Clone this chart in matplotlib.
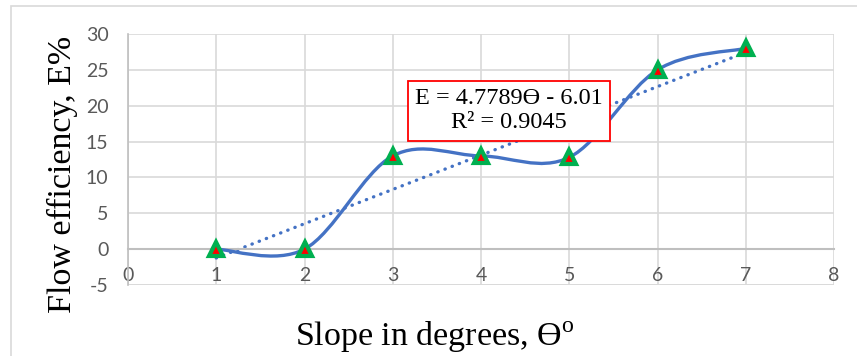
"""
Flow efficiency vs slope, with Excel-style smoothed line and linear trendline
"""

import matplotlib.pyplot as plt
from matplotlib.patches import PathPatch, Rectangle
from matplotlib.path import Path

# data
slope_deg = [1, 2, 3, 4, 5, 6, 7]
efficiency = [0, 0, 13, 13, 12.8, 25, 28]

# trendline as printed on the chart
trend_slope = 4.7789
trend_intercept = -6.01
trend_label = "E = 4.7789ϴ - 6.01\nR² = 0.9045"

x_ticks = [0, 1, 2, 3, 4, 5, 6, 7, 8]
y_ticks = [-5, 0, 5, 10, 15, 20, 25, 30]

blue = "#4472C4"
grid_col = "#D9D9D9"
axis_col = "#BFBFBF"
tick_col = "#595959"

plt.rcParams["axes.unicode_minus"] = False
plt.rcParams["mathtext.fontset"] = "custom"
plt.rcParams["mathtext.rm"] = "Liberation Serif"

serif = ["Liberation Serif", "DejaVu Serif"]

fig = plt.figure(figsize=(8.57, 3.56), dpi=100)
ax = fig.add_axes([128 / 857, 1 - 285 / 356, 706 / 857, 251 / 356])

# chart border
fig.patches.append(
    Rectangle((11 / 857, -0.1), 1.2, 1 - 6 / 356 + 0.1, transform=fig.transFigure,
              fill=False, edgecolor=grid_col, lw=1.2)
)

# grid
ax.set_xlim(0, 8)
ax.set_ylim(-5, 30)
ax.set_xticks(x_ticks)
ax.set_yticks(y_ticks)
ax.grid(True, color=grid_col, lw=1.2)
ax.set_axisbelow(True)

for side in ["top", "right"]:
    ax.spines[side].set_visible(False)
ax.spines["left"].set_color(axis_col)
ax.spines["left"].set_linewidth(1.2)
ax.spines["bottom"].set_position(("data", 0))
ax.spines["bottom"].set_color(axis_col)
ax.spines["bottom"].set_linewidth(1.5)
ax.axhline(-5, color=grid_col, lw=1.2, zorder=0.5)

ax.tick_params(axis="x", length=0, pad=13, labelsize=14, labelcolor=tick_col)
ax.tick_params(axis="y", length=0, pad=14, labelsize=14, labelcolor=tick_col)
for lab in ax.get_xticklabels() + ax.get_yticklabels():
    lab.set_fontfamily(["Lato", "DejaVu Sans"])

# smoothed line (Catmull-Rom style bezier, like Excel's smoothing)
pts = list(zip(slope_deg, efficiency))
verts = [pts[0]]
codes = [Path.MOVETO]
for i in range(len(pts) - 1):
    p0 = pts[i - 1] if i > 0 else pts[i]
    p1 = pts[i]
    p2 = pts[i + 1]
    p3 = pts[i + 2] if i + 2 < len(pts) else pts[i + 1]
    c1 = (p1[0] + (p2[0] - p0[0]) / 6, p1[1] + (p2[1] - p0[1]) / 6)
    c2 = (p2[0] - (p3[0] - p1[0]) / 6, p2[1] - (p3[1] - p1[1]) / 6)
    verts += [c1, c2, p2]
    codes += [Path.CURVE4] * 3
ax.add_patch(PathPatch(Path(verts, codes), fill=False, edgecolor=blue, lw=2.4,
                       capstyle="round", zorder=3))

# linear trendline
tx = [slope_deg[0], slope_deg[-1]]
ty = [trend_slope * v + trend_intercept for v in tx]
ax.plot(tx, ty, color=blue, lw=2.4, linestyle=(0, (0.1, 2.2)),
        dash_capstyle="round", zorder=2.5)

# markers
ax.plot(slope_deg, efficiency, linestyle="none", marker="^", markersize=10.5,
        markerfacecolor="#FF0000", markeredgecolor="#00B050",
        markeredgewidth=3, zorder=4)

# equation box
ax.text(4.317, 19.3, trend_label, ha="center", va="center", multialignment="center",
        fontsize=17.5, family=serif, linespacing=1.2,
        bbox=dict(boxstyle="square,pad=0.3", facecolor="white",
                  edgecolor="#FF0000", lw=1.3),
        zorder=5)

# axis labels
fig.text(62 / 857, 1 - 174 / 356, "Flow efficiency, E%", rotation=90,
         ha="center", va="center", fontsize=24.5, family=serif)
fig.text(435 / 857, 1 - 337 / 356, "Slope in degrees, ϴ$^{\\rm o}$",
         ha="center", va="center", fontsize=24.5, family=serif)

plt.savefig("out.png", dpi=100)
